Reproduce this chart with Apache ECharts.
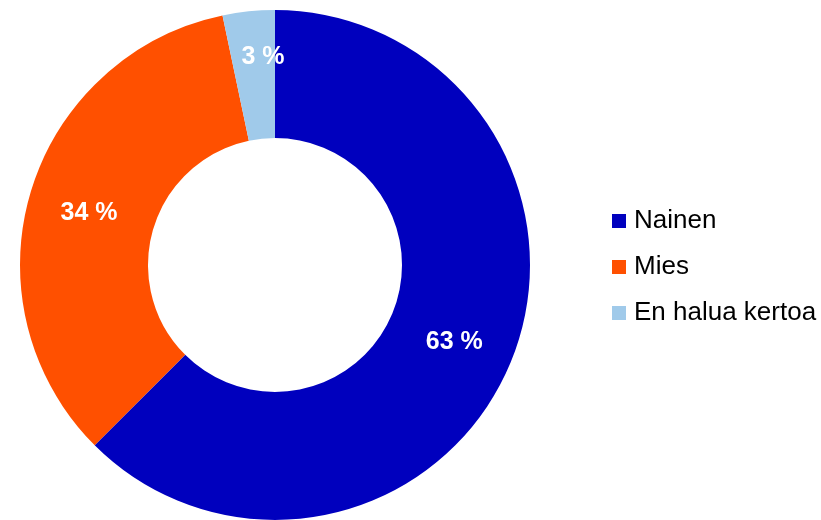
<!DOCTYPE html>
<html lang="fi">
<head>
  <meta charset="UTF-8">
  <title>Sukupuoli</title>
  <script src="https://cdn.jsdelivr.net/npm/echarts@6/dist/echarts.min.js"></script>
  <style>
    html, body { margin: 0; padding: 0; background: #fff; }
    #chart { width: 821px; height: 520px; }
  </style>
</head>
<body>
<div id="chart"></div>
<script>
  // data
  const categories = ['Nainen', 'Mies', 'En halua kertoa'];
  const shares = [62.5, 34.2, 3.3];
  const colors = ['#0000BE', '#FF5000', '#A0CAEA'];

  const chart = echarts.init(document.getElementById('chart'));

  const pieData = categories.map((name, i) => ({
    name: name,
    value: shares[i],
    itemStyle: { color: colors[i] }
  }));

  chart.setOption({
    animation: false,
    legend: {
      orient: 'vertical',
      left: 612,
      top: 208,
      padding: 0,
      icon: 'rect',
      itemWidth: 14,
      itemHeight: 14,
      itemGap: 20,
      textStyle: {
        fontFamily: 'Liberation Sans, Arial, sans-serif',
        fontSize: 26,
        color: '#000',
        padding: [0, 0, 0, 3]
      },
      data: categories
    },
    series: [
      {
        type: 'pie',
        center: [275, 265],
        radius: [127, 255],
        startAngle: 90,
        clockwise: true,
        label: {
          show: true,
          position: 'inside',
          color: '#fff',
          fontFamily: 'Liberation Sans, Arial, sans-serif',
          fontWeight: 'bold',
          fontSize: 25,
          formatter: p => Math.round(p.value) + ' %'
        },
        labelLayout: function (params) {
          if (params.dataIndex === 2) {
            return { dx: 8, dy: -15 };
          }
          return { dy: 3 };
        },
        labelLine: { show: false },
        emphasis: { disabled: true },
        data: pieData
      }
    ]
  });
</script>
</body>
</html>
